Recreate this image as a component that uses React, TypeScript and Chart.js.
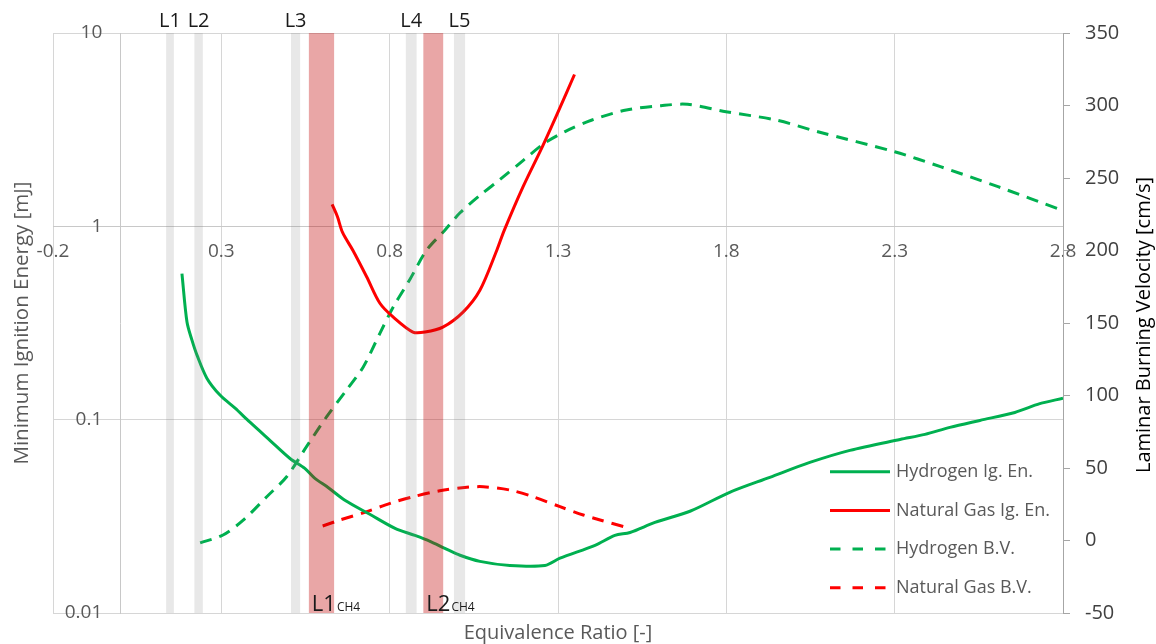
import React, { useEffect, useRef } from 'react';
import { Chart, registerables } from 'chart.js';

Chart.register(...registerables);

// ---- Data ----
const h2IgPhi = [0.183, 0.198, 0.213, 0.228, 0.257, 0.296, 0.34, 0.385, 0.445, 0.504, 0.548, 0.578, 0.617, 0.667, 0.741, 0.816, 0.875, 0.92, 0.964, 1.009, 1.068, 1.157, 1.261, 1.306, 1.41, 1.469, 1.514, 1.588, 1.692, 1.81, 1.929, 2.048, 2.167, 2.316, 2.39, 2.464, 2.553, 2.657, 2.731, 2.8];
const h2IgEnergy = [0.57, 0.32, 0.257, 0.215, 0.164, 0.134, 0.115, 0.097, 0.078, 0.063, 0.056, 0.0497, 0.0446, 0.0383, 0.0324, 0.0274, 0.0252, 0.0235, 0.0216, 0.0199, 0.0185, 0.0176, 0.0176, 0.0192, 0.0224, 0.0252, 0.0261, 0.0294, 0.0336, 0.0421, 0.0503, 0.0601, 0.0694, 0.079, 0.0839, 0.0912, 0.0991, 0.109, 0.121, 0.129];

const ngIgPhi = [0.629, 0.645, 0.66, 0.691, 0.732, 0.771, 0.81, 0.869, 0.905, 0.958, 1.018, 1.068, 1.118, 1.14, 1.196, 1.253, 1.298, 1.349];
const ngIgEnergy = [1.3, 1.12, 0.93, 0.75, 0.547, 0.4, 0.34, 0.284, 0.284, 0.301, 0.36, 0.467, 0.75, 0.95, 1.6, 2.57, 3.83, 6.1];

const h2BvPhi = [0.237, 0.305, 0.365, 0.435, 0.494, 0.553, 0.613, 0.672, 0.722, 0.771, 0.811, 0.86, 0.91, 0.964, 1.009, 1.068, 1.128, 1.196, 1.26, 1.321, 1.401, 1.503, 1.606, 1.685, 1.799, 1.947, 2.072, 2.3, 2.436, 2.607, 2.8];
const h2BvVelocity = [-1.6, 3.8, 14, 30.2, 44, 64.7, 85.4, 103.8, 119.9, 142.9, 161.2, 180, 200.3, 214, 226, 238, 249, 262, 274, 282, 290, 296.9, 299.9, 300.8, 295.7, 290, 281.9, 268.1, 257.8, 244, 227.5];

const ngBvPhi = [0.601, 0.652, 0.732, 0.801, 0.87, 0.949, 1.029, 1.078, 1.157, 1.226, 1.306, 1.375, 1.425, 1.499];
const ngBvVelocity = [10, 14.1, 19.9, 25.6, 30.2, 34.3, 36.7, 37.1, 34.8, 30.2, 23.3, 17.6, 14.1, 9.3];

const seriesNames = ['Hydrogen Ig. En.', 'Natural Gas Ig. En.', 'Hydrogen B.V.', 'Natural Gas B.V.'];

const xTickValues = [-0.2, 0.3, 0.8, 1.3, 1.8, 2.3, 2.8];
const energyTickValues = [0.01, 0.1, 1, 10];
const energyTickLabels = ['0.01', '0.1', '1', '10'];
const velocityTickValues = [-50, 0, 50, 100, 150, 200, 250, 300, 350];

const limitLabels = ['L1', 'L2', 'L3', 'L4', 'L5'];
const limitFrom = [0.136, 0.22, 0.507, 0.848, 0.991];
const limitTo = [0.159, 0.245, 0.534, 0.88, 1.024];

const ch4Labels = ['L1', 'L2'];
const ch4Sub = 'CH4';
const ch4From = [0.56, 0.9];
const ch4To = [0.635, 0.959];

const xTitle = 'Equivalence Ratio [-]';
const yTitle = 'Minimum Ignition Energy [mJ]';
const y2Title = 'Laminar Burning Velocity [cm/s]';

const toPoints = (xs: number[], ys: number[]) => xs.map((x, i) => ({ x, y: ys[i] }));

const GREEN = '#00B050';
const RED = '#FF0000';
const FONT = '"Open Sans", sans-serif';

export default function App() {
  const ref = useRef<HTMLCanvasElement>(null);

  useEffect(() => {
    const canvas = ref.current;
    if (!canvas) return;

    const overlayPlugin = {
      id: 'overlay',
      afterDatasetsDraw(chart: any) {
        const { ctx, chartArea: ca, scales } = chart;
        const xs = scales.x;
        ctx.save();
        ctx.fillStyle = 'rgba(128,128,128,0.18)';
        limitFrom.forEach((f, i) => {
          const x1 = xs.getPixelForValue(f);
          const x2 = xs.getPixelForValue(limitTo[i]);
          ctx.fillRect(x1, ca.top, x2 - x1, ca.bottom - ca.top);
        });
        ctx.fillStyle = 'rgba(192,0,0,0.35)';
        ch4From.forEach((f, i) => {
          const x1 = xs.getPixelForValue(f);
          const x2 = xs.getPixelForValue(ch4To[i]);
          ctx.fillRect(x1, ca.top, x2 - x1, ca.bottom - ca.top);
        });
        ctx.restore();
      },
      afterDraw(chart: any) {
        const { ctx, chartArea: ca, scales } = chart;
        const xs = scales.x;
        const ys = scales.y;
        ctx.save();

        // left (log) axis tick labels, placed beside the axis line at x = 0
        ctx.fillStyle = '#595959';
        ctx.font = `19px ${FONT}`;
        ctx.textAlign = 'right';
        ctx.textBaseline = 'middle';
        const axisX = xs.getPixelForValue(0);
        energyTickValues.forEach((v, i) => {
          ctx.fillText(energyTickLabels[i], axisX - 18, ys.getPixelForValue(v));
        });

        // limit labels on top
        ctx.fillStyle = '#1a1a1a';
        ctx.font = `20px ${FONT}`;
        ctx.textAlign = 'center';
        ctx.textBaseline = 'alphabetic';
        limitFrom.forEach((f, i) => {
          const xc = xs.getPixelForValue((f + limitTo[i]) / 2);
          ctx.fillText(limitLabels[i], xc, ca.top - 6);
        });
        // CH4 labels at bottom
        ctx.textAlign = 'left';
        ch4From.forEach((f, i) => {
          const x1 = xs.getPixelForValue(f) + 3;
          ctx.font = `22px ${FONT}`;
          ctx.fillText(ch4Labels[i], x1, ca.bottom - 2);
          const w = ctx.measureText(ch4Labels[i]).width;
          ctx.font = `12px ${FONT}`;
          ctx.fillText(ch4Sub, x1 + w + 1, ca.bottom - 2);
        });

        // axis titles
        ctx.font = `20px ${FONT}`;
        ctx.fillStyle = '#595959';
        ctx.textAlign = 'center';
        ctx.fillText(xTitle, (ca.left + ca.right) / 2, ca.bottom + 26);
        ctx.save();
        ctx.font = `20.5px ${FONT}`;
        ctx.translate(ca.left - 25.5, (ca.top + ca.bottom) / 2);
        ctx.rotate(-Math.PI / 2);
        ctx.fillText(yTitle, 0, 0);
        ctx.restore();
        ctx.save();
        ctx.fillStyle = '#000000';
        ctx.translate(ca.right + 87, (ca.top + ca.bottom) / 2 + 2);
        ctx.rotate(-Math.PI / 2);
        ctx.fillText(y2Title, 0, 0);
        ctx.restore();

        // legend
        const lx = ca.right - 233;
        const ly = ca.top + 438.7;
        const step = 38.7;
        ctx.font = `18px ${FONT}`;
        ctx.textBaseline = 'middle';
        ctx.textAlign = 'left';
        chart.data.datasets.forEach((ds: any, i: number) => {
          const y = ly + i * step;
          ctx.strokeStyle = ds.borderColor;
          ctx.lineWidth = ds.borderWidth;
          ctx.setLineDash(ds.borderDash && ds.borderDash.length ? [10.5, 12] : []);
          ctx.beginPath();
          ctx.moveTo(lx, y);
          ctx.lineTo(lx + 60, y);
          ctx.stroke();
          ctx.setLineDash([]);
          ctx.fillStyle = '#595959';
          ctx.fillText(ds.label, lx + 66, y);
        });
        ctx.restore();
      },
    };

    const chart = new Chart(canvas, {
      type: 'line',
      data: {
        datasets: [
          {
            label: seriesNames[0],
            data: toPoints(h2IgPhi, h2IgEnergy),
            borderColor: GREEN,
            borderWidth: 3,
            yAxisID: 'y',
            tension: 0.3,
          },
          {
            label: seriesNames[1],
            data: toPoints(ngIgPhi, ngIgEnergy),
            borderColor: RED,
            borderWidth: 3,
            yAxisID: 'y',
            tension: 0.3,
          },
          {
            label: seriesNames[2],
            data: toPoints(h2BvPhi, h2BvVelocity),
            borderColor: GREEN,
            borderWidth: 3,
            borderDash: [12, 8],
            yAxisID: 'y2',
            tension: 0.3,
          },
          {
            label: seriesNames[3],
            data: toPoints(ngBvPhi, ngBvVelocity),
            borderColor: RED,
            borderWidth: 3,
            borderDash: [12, 8],
            yAxisID: 'y2',
            tension: 0.3,
          },
        ],
      },
      options: {
        responsive: false,
        animation: false,
        devicePixelRatio: 1,
        layout: { padding: { left: 53, top: 33, right: 0, bottom: 31 } },
        elements: { point: { radius: 0 } },
        plugins: { legend: { display: false }, tooltip: { enabled: false } },
        scales: {
          x: {
            type: 'linear',
            axis: 'x',
            position: { y: 1 } as any,
            min: -0.2,
            max: 2.8,
            afterBuildTicks: (s: any) => { s.ticks = xTickValues.map((v) => ({ value: v })); },
            ticks: {
              color: '#595959',
              font: { family: FONT, size: 19 },
              padding: 14,
              maxRotation: 0,
              autoSkip: false,
              callback: (v: any) => Number(v).toFixed(1),
            },
            grid: { color: '#D6D6D6', lineWidth: 1, drawTicks: false },
            border: { display: true, color: '#C8C8C8', width: 1 },
          },
          y: {
            type: 'logarithmic',
            axis: 'y',
            position: { x: 0 } as any,
            min: 0.01,
            max: 10,
            afterBuildTicks: (s: any) => { s.ticks = energyTickValues.map((v) => ({ value: v })); },
            ticks: { display: false },
            grid: { color: '#D6D6D6', lineWidth: 1, drawTicks: false },
            border: { display: true, color: '#C8C8C8', width: 1 },
          },
          y2: {
            type: 'linear',
            axis: 'y',
            position: 'right',
            min: -50,
            max: 350,
            afterBuildTicks: (s: any) => { s.ticks = velocityTickValues.map((v) => ({ value: v })); },
            afterFit: (s: any) => { s.width = 93; },
            ticks: {
              color: '#404040',
              font: { family: FONT, size: 20 },
              padding: 15,
              autoSkip: false,
            },
            grid: { drawOnChartArea: false, color: '#A6A6A6', tickLength: 7, lineWidth: 1 },
            border: { display: true, color: '#A6A6A6', width: 1 },
          },
        },
      } as any,
      plugins: [overlayPlugin],
    });

    return () => chart.destroy();
  }, []);

  return (
    <div style={{ position: 'fixed', left: 0, top: 0, width: 1156, height: 644, background: '#ffffff' }}>
      <canvas ref={ref} width={1156} height={644} style={{ display: 'block' }} />
    </div>
  );
}
